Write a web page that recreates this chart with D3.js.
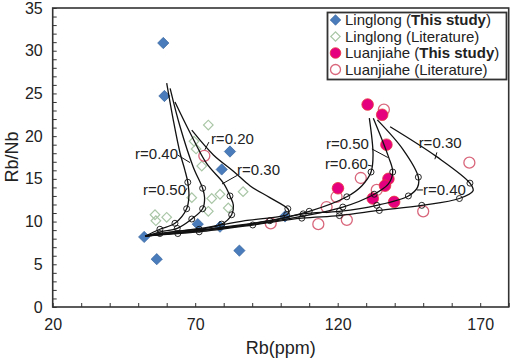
<!DOCTYPE html>
<html><head><meta charset="utf-8">
<script src="https://cdn.jsdelivr.net/npm/d3@7"></script>
<style>
body{margin:0;background:#fff;}
text{font-family:"Liberation Sans",Arial,sans-serif;fill:#222;}
</style></head>
<body><svg id="c" width="512" height="360"></svg>
<script>
// ---------- data ----------
const xTicks = [20,30,40,50,60,70,80,90,100,110,120,130,140,150,160,170,180];
const xLabels = [20,70,120,170];
const yTicks = d3.range(0,36,1);
const yLabels = [0,5,10,15,20,25,30,35];

const linglongStudy = [[58.8,30.9],[59.2,24.7],[82.2,18.2],[79.3,16.1],[52.1,8.2],[56.5,5.6],[70.9,9.7],[78.7,9.4],[85.5,6.6],[101.5,10.6]];
const linglongLit = [[74.6,21.3],[69.6,19.4],[70.3,18.5],[72.3,16.5],[68.8,12.8],[75.8,12.7],[78.7,13.2],[86.8,13.5],[81.6,11.6],[74.6,11.2],[55.9,10.8],[60.0,10.5],[56.2,10.1]];
const luanStudy = [[130.5,23.7],[135.6,22.5],[137.1,19.0],[137.8,15.0],[136.6,14.2],[120.1,13.9],[132.3,12.7],[139.8,12.3]];
const luanLit = [[136.2,23.1],[166.2,16.9],[128.1,15.1],[133.7,13.7],[119.6,12.9],[116.1,11.7],[123.2,10.2],[113.2,9.7],[96.5,9.8],[150.0,11.2],[73.2,17.7]];

// model curves: [Rb, Rb/Nb, marker(1 = circle)]
const curveA = [[52.4,8.3,0],[57.6,9.1,1],[62.9,9.8,1],[67.0,11.5,1],[67.8,13.0,0],[67.4,14.6,1],[66.4,16.0,0],[64.7,18.0,0],[62.3,21.9,0],[60.0,26.2,0]];
const curveB = [[52.4,8.3,0],[58.0,8.8,0],[63.7,9.2,1],[68.8,10.3,1],[72.6,11.5,1],[73.3,12.8,0],[72.6,13.9,1],[69.3,16.4,0],[64.7,21.1,0],[61.2,25.6,0]];
const curveC = [[52.4,8.3,0],[62.0,8.8,0],[71.4,9.1,1],[79.3,9.7,1],[82.8,10.8,1],[83.4,11.9,0],[82.2,13.0,1],[79.9,14.5,0],[74.0,16.8,0],[68.2,20.4,0],[62.9,24.0,0]];
const curveD = [[52.4,8.3,0],[57.6,8.6,1],[71.7,9.2,0],[87.5,10.1,0],[102.1,10.8,1],[102.9,11.1,0],[102.5,11.5,1],[96.2,12.8,0],[89.2,14.2,0],[83.4,15.9,0],[76.4,17.8,0],[68.8,20.7,0]];
const curveE = [[52.4,8.3,0],[89.2,9.7,0],[110.0,11.2,1],[123.2,12.9,1],[128.5,14.2,0],[131.7,15.8,1],[132.4,17.8,0],[131.1,22.1,0]];
const curveF = [[52.4,8.3,0],[92.7,9.8,0],[121.8,11.7,1],[132.8,13.2,1],[137.8,14.4,0],[139.3,15.8,1],[137.8,17.6,0],[132.5,22.1,0]];
const curveG = [[52.4,8.3,0],[96.2,10.1,1],[107.9,10.9,1],[120.6,11.2,1],[133.7,11.9,1],[144.8,13.0,1],[148.0,14.0,0],[148.3,15.2,1],[143.0,18.4,0],[133.9,21.9,0]];
const curveH = [[52.4,8.3,0],[63.9,8.6,1],[71.4,8.8,1],[90.2,9.6,1],[107.4,10.4,1],[120.6,10.7,1],[134.6,11.3,1],[149.5,11.9,1],[162.7,12.7,1],[167.5,13.6,0],[166.4,14.5,1],[154.7,17.6,0],[138.4,21.1,0]];
const curves = [curveA,curveB,curveC,curveD,curveE,curveF,curveG,curveH];

// curve labels: text, x, y (data), leader x1,y1,x2,y2 (data)
const labelText = ["r=0.40","r=0.50","r=0.20","r=0.30","r=0.50","r=0.60","r=0.30","r=0.40"];
const labelPos = [[48.9,17.3],[51.7,13.1],[75.5,19.1],[84.7,15.4],[115.9,18.5],[115.5,16.2],[148.4,18.65],[149.9,13.1]];
const leaders = [[63.8,17.8,68.2,16.9],[65.7,13.1,67.1,13.9],[74.8,19.3,73.4,18.4],[84.7,15.4,79.4,14.4],[132.0,18.5,137.6,17.5],[130.6,16.6,132.0,16.5],[154.8,18.1,154.1,17.3],[147.8,13.7,149.9,13.7]];

const legendNames = ["Linglong","Linglong","Luanjiahe","Luanjiahe"];
const legendTags = ["This study","Literature","This study","Literature"];

// ---------- drawing ----------
const svg = d3.select("#c");
const L=52.7,R=508.7,T=8,B=307;
const x = d3.scaleLinear().domain([20,180]).range([L,R]);
const y = d3.scaleLinear().domain([0,35]).range([B,T]);

const cBlue="#4a7cbc", cBlueS="#2f5f98", cGreen="#a9c6a6", cMag="#e5007e", cMagS="#e8383d", cPink="#d9677c";

// axes
const xa = svg.append("g").attr("transform",`translate(0,${B})`)
  .call(d3.axisBottom(x).tickValues(xTicks).tickSize(-4).tickPadding(12)
    .tickFormat(d=>xLabels.includes(d)?d:""));
const ya = svg.append("g").attr("transform",`translate(${L},0)`)
  .call(d3.axisLeft(y).tickValues(yTicks).tickSize(-4).tickPadding(10)
    .tickFormat(d=>yLabels.includes(d)?d:""));
[xa,ya].forEach(g=>{
  g.select(".domain").remove();
  g.selectAll(".tick line").attr("stroke","#333").attr("stroke-width",1);
  g.selectAll(".tick text").style("font-family","'Liberation Sans',Arial,sans-serif").style("font-size","16px").attr("fill","#222");
});
svg.append("rect").attr("x",L).attr("y",T).attr("width",R-L).attr("height",B-T)
  .attr("fill","none").attr("stroke","#333").attr("stroke-width",1.6);

svg.append("text").attr("x",(L+R)/2).attr("y",354).attr("text-anchor","middle")
  .style("font-size","18px").text("Rb(ppm)");
svg.append("text").attr("transform",`translate(18,157) rotate(-90)`).attr("text-anchor","middle")
  .style("font-size","18px").text("Rb/Nb");

const sq = d3.symbol().type(d3.symbolSquare);
// literature markers
svg.append("g").selectAll("path").data(linglongLit).join("path")
  .attr("d",sq.size(46)()).attr("transform",d=>`translate(${x(d[0])},${y(d[1])}) rotate(45)`)
  .attr("fill","none").attr("stroke",cGreen).attr("stroke-width",1.2);
svg.append("g").selectAll("circle").data(luanLit).join("circle")
  .attr("cx",d=>x(d[0])).attr("cy",d=>y(d[1])).attr("r",5.5)
  .attr("fill","none").attr("stroke",cPink).attr("stroke-width",1.3);
// this-study markers
svg.append("g").selectAll("path").data(linglongStudy).join("path")
  .attr("d",sq.size(64)()).attr("transform",d=>`translate(${x(d[0])},${y(d[1])}) rotate(45)`)
  .attr("fill",cBlue).attr("stroke",cBlueS).attr("stroke-width",0.6);
svg.append("g").selectAll("circle").data(luanStudy).join("circle")
  .attr("cx",d=>x(d[0])).attr("cy",d=>y(d[1])).attr("r",5.8)
  .attr("fill",cMag).attr("stroke",cMagS).attr("stroke-width",0.8);

// curves
const line = d3.line().x(d=>x(d[0])).y(d=>y(d[1])).curve(d3.curveCatmullRom.alpha(0.5));
const cg = svg.append("g");
curves.forEach(c=>{
  cg.append("path").attr("d",line(c)).attr("fill","none").attr("stroke","#111").attr("stroke-width",1.3);
});
curves.forEach(c=>{
  cg.append("g").selectAll("circle").data(c.filter(d=>d[2])).join("circle")
    .attr("cx",d=>x(d[0])).attr("cy",d=>y(d[1])).attr("r",3)
    .attr("fill","none").attr("stroke","#111").attr("stroke-width",0.9);
});
// labels
svg.append("g").selectAll("line").data(leaders).join("line")
  .attr("x1",d=>x(d[0])).attr("y1",d=>y(d[1])).attr("x2",d=>x(d[2])).attr("y2",d=>y(d[3]))
  .attr("stroke","#111").attr("stroke-width",1);
svg.append("g").selectAll("text").data(labelText).join("text")
  .attr("x",(d,i)=>x(labelPos[i][0])).attr("y",(d,i)=>y(labelPos[i][1]))
  .style("font-size","15px").text(d=>d);

// legend
const lg = svg.append("g");
lg.append("rect").attr("x",327.5).attr("y",12.5).attr("width",179).attr("height",67)
  .attr("fill","#fff").attr("stroke","#333").attr("stroke-width",1.8);
const rowY = [20,36.5,53,69.5];
legendNames.forEach((n,i)=>{
  const cy=rowY[i], cx=335.5;
  if(i===0) lg.append("path").attr("d",sq.size(56)()).attr("transform",`translate(${cx},${cy}) rotate(45)`).attr("fill",cBlue).attr("stroke",cBlueS).attr("stroke-width",0.6);
  if(i===1) lg.append("path").attr("d",sq.size(44)()).attr("transform",`translate(${cx},${cy}) rotate(45)`).attr("fill","none").attr("stroke",cGreen).attr("stroke-width",1.2);
  if(i===2) lg.append("circle").attr("cx",cx).attr("cy",cy).attr("r",5.3).attr("fill",cMag).attr("stroke",cMagS).attr("stroke-width",0.8);
  if(i===3) lg.append("circle").attr("cx",cx).attr("cy",cy).attr("r",5).attr("fill","none").attr("stroke",cPink).attr("stroke-width",1.3);
  const t = lg.append("text").attr("x",345).attr("y",cy+5.3).style("font-size","15px");
  t.append("tspan").text(n+" (");
  t.append("tspan").style("font-weight", legendTags[i]==="This study"?"bold":"normal").text(legendTags[i]);
  t.append("tspan").text(")");
});
</script></body></html>
